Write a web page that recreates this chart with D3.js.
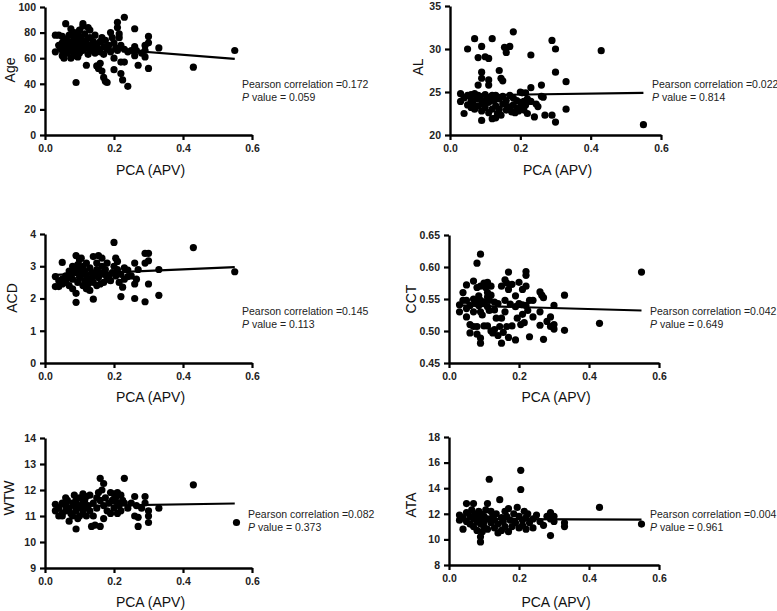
<!DOCTYPE html>
<html><head><meta charset="utf-8">
<script src="https://cdn.jsdelivr.net/npm/d3@7"></script>
<style>
body{margin:0;background:#fff}
svg{display:block}
text{font-family:"Liberation Sans",Arial,Helvetica,sans-serif}
</style>
</head><body>
<svg id="chart" width="777" height="611"></svg>
<script>
// ---------------- DATA ----------------
const xTickValues = [0.0, 0.2, 0.4, 0.6];
const xTickLabels = ["0.0", "0.2", "0.4", "0.6"];
const xTitle = "PCA (APV)";

const yTitles = ["Age", "AL", "ACD", "CCT", "WTW", "ATA"];

const ageTicks = [0, 20, 40, 60, 80, 100];
const alTicks = [20, 25, 30, 35];
const acdTicks = [0, 1, 2, 3, 4];
const cctTicks = [0.45, 0.50, 0.55, 0.60, 0.65];
const cctTickLabels = ["0.45", "0.50", "0.55", "0.60", "0.65"];
const wtwTicks = [9, 10, 11, 12, 13, 14];
const ataTicks = [8, 10, 12, 14, 16, 18];

const pearson = ["0.172", "0.022", "0.145", "0.042", "0.082", "0.004"];
const pValues = ["0.059", "0.814", "0.113", "0.649", "0.373", "0.961"];

// regression line end points [x, y]
const ageFit = [[0.03, 70.5], [0.55, 59.5]];
const alFit = [[0.03, 24.6], [0.55, 24.9]];
const acdFit = [[0.03, 2.73], [0.55, 2.97]];
const cctFit = [[0.03, 0.540], [0.55, 0.532]];
const wtwFit = [[0.03, 11.37], [0.55, 11.48]];
const ataFit = [[0.03, 11.6], [0.55, 11.55]];

const agePts = [[0.03,78],[0.03,65],[0.04,78],[0.04,70],[0.045,68],[0.05,77],[0.05,72],[0.05,66],[0.05,62],[0.055,60],[0.06,87],[0.06,75],[0.06,70],[0.065,68],[0.065,64],[0.07,78],[0.07,73],[0.07,67],[0.075,60],[0.075,83],[0.08,72],[0.08,69],[0.08,65],[0.085,80],[0.085,76],[0.085,62],[0.09,41],[0.09,79],[0.09,74],[0.09,70],[0.09,66],[0.095,73],[0.095,61],[0.1,82],[0.1,77],[0.1,71],[0.1,68],[0.1,64],[0.105,75],[0.11,87],[0.11,85],[0.11,72],[0.11,66],[0.115,79],[0.115,70],[0.12,54.5],[0.12,74],[0.12,68],[0.125,84],[0.125,63],[0.13,82],[0.13,76],[0.13,70],[0.135,66],[0.14,73],[0.14,68],[0.145,78],[0.145,64],[0.15,54],[0.15,71],[0.155,67],[0.155,52],[0.16,56],[0.16,73],[0.16,65],[0.165,50],[0.165,76],[0.17,45],[0.17,69],[0.17,63],[0.175,42],[0.175,74],[0.18,41],[0.18,67],[0.185,70],[0.19,80],[0.19,65],[0.195,76],[0.2,51],[0.2,60],[0.2,72],[0.205,68],[0.21,88],[0.21,84],[0.21,66],[0.215,79],[0.215,76],[0.22,57],[0.22,48],[0.22,70],[0.225,43],[0.23,92],[0.23,57],[0.23,67],[0.24,38],[0.24,65],[0.25,66],[0.26,83],[0.26,69],[0.26,62],[0.265,66],[0.27,54.5],[0.28,64],[0.29,70],[0.29,66],[0.29,61],[0.3,77],[0.3,72],[0.3,52],[0.33,68],[0.43,53],[0.55,66]];

const alPts = [[0.03,24.8],[0.03,23.9],[0.04,24.3],[0.04,22.5],[0.05,30.0],[0.05,23.5],[0.05,24.6],[0.06,23.2],[0.06,24.0],[0.06,24.7],[0.065,23.6],[0.07,31.2],[0.07,24.8],[0.07,23.0],[0.075,24.2],[0.08,29.0],[0.08,25.8],[0.08,23.4],[0.08,24.6],[0.085,24.5],[0.09,30.3],[0.09,27.3],[0.09,26.6],[0.09,24.0],[0.09,22.8],[0.09,21.7],[0.095,23.6],[0.1,29.1],[0.1,24.7],[0.1,23.2],[0.1,23.9],[0.105,24.1],[0.11,28.9],[0.11,26.4],[0.11,25.8],[0.11,23.8],[0.11,22.6],[0.115,24.4],[0.12,31.2],[0.12,23.0],[0.12,21.9],[0.12,24.6],[0.125,24.0],[0.13,24.6],[0.13,23.4],[0.13,22.0],[0.135,22.5],[0.14,27.5],[0.14,24.2],[0.14,23.0],[0.145,26.6],[0.145,22.3],[0.15,26.3],[0.15,24.5],[0.15,23.6],[0.155,30.2],[0.16,29.6],[0.16,24.0],[0.16,22.9],[0.165,23.3],[0.17,30.3],[0.17,24.6],[0.17,23.0],[0.175,22.7],[0.18,32.0],[0.18,24.3],[0.18,23.5],[0.185,22.6],[0.19,24.0],[0.19,23.1],[0.195,22.8],[0.2,25.0],[0.2,23.8],[0.2,23.2],[0.205,24.9],[0.21,23.9],[0.21,22.9],[0.215,24.9],[0.215,23.5],[0.22,22.5],[0.22,24.2],[0.23,29.3],[0.23,25.5],[0.23,23.9],[0.24,22.1],[0.245,23.6],[0.25,23.3],[0.26,25.8],[0.26,24.5],[0.265,24.4],[0.27,22.3],[0.29,31.0],[0.29,22.3],[0.3,30.0],[0.3,27.3],[0.3,21.5],[0.33,26.2],[0.33,23.0],[0.43,29.8],[0.55,21.2]];

const acdPts = [[0.03,2.68],[0.03,2.37],[0.04,2.55],[0.04,2.37],[0.05,3.12],[0.05,2.6],[0.05,2.45],[0.06,2.7],[0.06,2.5],[0.065,2.62],[0.07,2.85],[0.07,2.4],[0.075,2.75],[0.08,3.0],[0.08,2.6],[0.08,2.3],[0.085,2.9],[0.09,3.33],[0.09,2.8],[0.09,2.16],[0.09,1.88],[0.095,3.05],[0.095,2.5],[0.1,3.2],[0.1,2.9],[0.1,2.65],[0.105,3.25],[0.105,2.75],[0.11,3.0],[0.11,2.4],[0.115,2.85],[0.115,2.55],[0.12,3.1],[0.12,2.7],[0.12,2.3],[0.125,2.45],[0.13,2.95],[0.13,2.6],[0.13,2.25],[0.135,2.8],[0.14,3.3],[0.14,2.5],[0.14,1.98],[0.145,2.7],[0.15,3.1],[0.15,2.9],[0.15,2.4],[0.155,3.33],[0.155,2.65],[0.16,2.8],[0.16,2.45],[0.165,3.25],[0.165,3.0],[0.17,2.75],[0.17,2.5],[0.175,2.9],[0.18,3.1],[0.18,2.6],[0.185,2.7],[0.19,2.55],[0.195,2.8],[0.2,3.74],[0.2,3.0],[0.205,3.25],[0.205,2.7],[0.21,3.15],[0.21,2.9],[0.215,2.5],[0.22,2.75],[0.22,2.06],[0.225,2.35],[0.23,2.95],[0.23,2.6],[0.24,2.68],[0.24,2.88],[0.25,2.7],[0.26,3.1],[0.26,2.45],[0.26,2.0],[0.265,2.6],[0.27,2.9],[0.29,3.4],[0.29,3.1],[0.29,1.9],[0.3,3.4],[0.3,3.17],[0.3,2.45],[0.33,2.9],[0.33,2.1],[0.43,3.58],[0.55,2.83]];

const cctPts = [[0.03,0.541],[0.03,0.530],[0.04,0.560],[0.04,0.548],[0.05,0.572],[0.05,0.548],[0.05,0.535],[0.05,0.522],[0.06,0.510],[0.06,0.497],[0.06,0.540],[0.07,0.578],[0.07,0.550],[0.07,0.530],[0.07,0.507],[0.075,0.545],[0.08,0.606],[0.08,0.568],[0.08,0.495],[0.08,0.507],[0.085,0.555],[0.085,0.540],[0.09,0.620],[0.09,0.570],[0.09,0.548],[0.09,0.530],[0.09,0.489],[0.09,0.481],[0.095,0.525],[0.1,0.575],[0.1,0.545],[0.1,0.508],[0.105,0.568],[0.11,0.576],[0.11,0.560],[0.11,0.553],[0.11,0.538],[0.11,0.508],[0.115,0.548],[0.115,0.532],[0.12,0.570],[0.12,0.556],[0.12,0.500],[0.125,0.497],[0.13,0.545],[0.13,0.533],[0.13,0.502],[0.135,0.520],[0.14,0.543],[0.14,0.493],[0.145,0.507],[0.15,0.570],[0.15,0.520],[0.15,0.481],[0.155,0.498],[0.16,0.580],[0.16,0.548],[0.16,0.530],[0.165,0.575],[0.165,0.507],[0.17,0.592],[0.17,0.565],[0.17,0.490],[0.175,0.542],[0.18,0.573],[0.18,0.508],[0.19,0.555],[0.19,0.538],[0.19,0.486],[0.195,0.520],[0.2,0.576],[0.2,0.543],[0.205,0.510],[0.21,0.565],[0.21,0.541],[0.21,0.526],[0.215,0.513],[0.22,0.593],[0.22,0.587],[0.22,0.570],[0.22,0.540],[0.225,0.532],[0.23,0.548],[0.23,0.491],[0.24,0.522],[0.24,0.548],[0.26,0.561],[0.26,0.530],[0.26,0.509],[0.265,0.556],[0.27,0.552],[0.27,0.487],[0.28,0.515],[0.29,0.522],[0.29,0.507],[0.3,0.540],[0.3,0.510],[0.3,0.503],[0.33,0.556],[0.33,0.501],[0.43,0.512],[0.55,0.592]];

const wtwPts = [[0.03,11.45],[0.03,11.2],[0.04,11.3],[0.04,11.0],[0.05,11.5],[0.05,11.1],[0.05,11.0],[0.06,11.7],[0.06,11.4],[0.06,11.2],[0.065,11.6],[0.07,11.3],[0.07,10.8],[0.075,11.1],[0.08,11.5],[0.08,11.0],[0.085,11.8],[0.085,11.4],[0.09,10.5],[0.09,11.6],[0.09,11.2],[0.095,10.9],[0.1,11.7],[0.1,11.4],[0.1,11.0],[0.105,11.3],[0.11,11.85],[0.11,11.5],[0.11,11.1],[0.115,11.6],[0.12,11.75],[0.12,11.3],[0.12,11.0],[0.125,11.4],[0.13,11.8],[0.13,11.2],[0.135,10.6],[0.14,11.5],[0.14,11.0],[0.145,10.65],[0.15,11.7],[0.15,11.3],[0.155,11.9],[0.16,12.45],[0.16,11.6],[0.16,10.6],[0.165,12.0],[0.17,12.25],[0.17,11.4],[0.17,10.9],[0.175,11.7],[0.18,11.2],[0.185,11.5],[0.19,11.9],[0.19,11.1],[0.195,11.6],[0.2,11.85],[0.2,11.3],[0.205,11.7],[0.21,11.9],[0.21,11.5],[0.21,11.1],[0.215,11.4],[0.22,11.8],[0.22,11.2],[0.225,11.6],[0.23,12.45],[0.23,11.5],[0.24,11.3],[0.25,11.5],[0.26,11.75],[0.26,11.0],[0.265,11.4],[0.27,10.95],[0.27,10.6],[0.28,11.3],[0.29,11.75],[0.29,11.5],[0.3,11.2],[0.3,11.0],[0.3,10.75],[0.33,11.3],[0.43,12.2],[0.555,10.75]];

const ataPts = [[0.03,11.9],[0.03,11.5],[0.04,11.7],[0.04,10.8],[0.05,12.8],[0.05,11.4],[0.05,12.1],[0.06,11.8],[0.06,11.2],[0.065,12.3],[0.07,12.8],[0.07,11.6],[0.07,11.0],[0.075,12.0],[0.08,11.4],[0.08,10.7],[0.085,12.2],[0.085,11.7],[0.09,9.8],[0.09,10.2],[0.09,11.2],[0.09,12.0],[0.095,10.6],[0.1,11.8],[0.1,11.4],[0.1,11.0],[0.105,12.3],[0.11,12.8],[0.11,11.6],[0.11,10.8],[0.115,14.7],[0.12,12.2],[0.12,11.3],[0.125,11.9],[0.13,11.5],[0.13,10.9],[0.135,12.0],[0.14,11.2],[0.14,10.5],[0.145,13.1],[0.15,11.7],[0.15,10.7],[0.155,11.4],[0.16,12.2],[0.16,11.0],[0.165,11.8],[0.17,10.6],[0.17,12.4],[0.175,11.5],[0.18,11.0],[0.185,12.0],[0.19,11.3],[0.195,12.5],[0.2,11.8],[0.2,10.9],[0.205,15.4],[0.205,13.9],[0.21,11.5],[0.21,11.1],[0.215,12.2],[0.22,11.7],[0.22,10.8],[0.225,12.0],[0.23,11.3],[0.24,11.6],[0.24,10.9],[0.25,11.9],[0.26,11.4],[0.27,11.1],[0.28,11.8],[0.29,10.3],[0.29,12.1],[0.29,11.6],[0.3,11.4],[0.3,11.8],[0.33,11.3],[0.33,11.0],[0.43,12.5],[0.55,11.2]];

// ---------------- LAYOUT ----------------
const layout = [
  {x0:45,  x1:252, yb:135, yt:7,   tx:10,  ty:70,  xty:175, ax:242, ay:88},
  {x0:450, x1:661, yb:135, yt:6,   tx:418, ty:67,  xty:175, ax:652, ay:88},
  {x0:45,  x1:252, yb:363, yt:234, tx:12,  ty:298, xty:402, ax:242, ay:315},
  {x0:449, x1:659, yb:363, yt:235, tx:411, ty:299, xty:402, ax:650, ay:315},
  {x0:45,  x1:252, yb:568, yt:438, tx:9,   ty:498, xty:607, ax:248, ay:518},
  {x0:449, x1:659, yb:565, yt:437, tx:411, ty:505, xty:607, ax:650, ay:518}
];

const panels = [
  {pts:agePts, fit:ageFit, ticks:ageTicks, labels:ageTicks.map(String)},
  {pts:alPts,  fit:alFit,  ticks:alTicks,  labels:alTicks.map(String)},
  {pts:acdPts, fit:acdFit, ticks:acdTicks, labels:acdTicks.map(String)},
  {pts:cctPts, fit:cctFit, ticks:cctTicks, labels:cctTickLabels},
  {pts:wtwPts, fit:wtwFit, ticks:wtwTicks, labels:wtwTicks.map(String)},
  {pts:ataPts, fit:ataFit, ticks:ataTicks, labels:ataTicks.map(String)}
];

const svg = d3.select("#chart");

panels.forEach((p, i) => {
  const L = layout[i];
  const g = svg.append("g");
  const x = d3.scaleLinear().domain([0, 0.6]).range([L.x0, L.x1]);
  const y = d3.scaleLinear().domain([p.ticks[0], p.ticks[p.ticks.length-1]]).range([L.yb, L.yt]);

  // points
  g.append("g").selectAll("circle").data(p.pts).join("circle")
    .attr("cx", d => x(d[0])).attr("cy", d => y(d[1]))
    .attr("r", 3.6).attr("fill", "#000");

  // fit line
  g.append("line")
    .attr("x1", x(p.fit[0][0])).attr("y1", y(p.fit[0][1]))
    .attr("x2", x(p.fit[1][0])).attr("y2", y(p.fit[1][1]))
    .attr("stroke", "#000").attr("stroke-width", 2.2);

  // axes
  const xa = g.append("g").attr("transform", `translate(0,${L.yb})`)
    .call(d3.axisBottom(x).tickValues(xTickValues).tickFormat((d, k) => xTickLabels[k]).tickSize(5).tickSizeOuter(0).tickPadding(5));
  const ya = g.append("g").attr("transform", `translate(${L.x0},0)`)
    .call(d3.axisLeft(y).tickValues(p.ticks).tickFormat((d, k) => p.labels[k]).tickSize(5).tickSizeOuter(0).tickPadding(4));
  [xa, ya].forEach(a => {
    a.select(".domain").attr("stroke", "#000").attr("stroke-width", 2.4);
    a.selectAll(".tick line").attr("stroke", "#000").attr("stroke-width", 2.2);
    a.selectAll(".tick text").attr("fill", "#222").attr("font-size", 10.5).attr("font-weight", "bold")
      .attr("font-family", "'Liberation Sans', Arial, sans-serif");
  });

  // titles
  g.append("text").attr("x", (L.x0 + L.x1) / 2 + 2).attr("y", L.xty)
    .attr("text-anchor", "middle").attr("font-size", 14).attr("fill", "#111").text(xTitle);
  g.append("text").attr("transform", `translate(${L.tx + 5},${L.ty}) rotate(-90)`)
    .attr("text-anchor", "middle").attr("font-size", 14).attr("fill", "#111").text(yTitles[i]);

  // annotation
  const t1 = g.append("text").attr("x", L.ax).attr("y", L.ay).attr("font-size", 10.5).attr("fill", "#222")
    .text("Pearson correlation =" + pearson[i]);
  const t2 = g.append("text").attr("x", L.ax).attr("y", L.ay + 13).attr("font-size", 10.5).attr("fill", "#222");
  t2.append("tspan").attr("font-style", "italic").text("P");
  t2.append("tspan").text(" value = " + pValues[i]);
});
</script>
</body></html>
